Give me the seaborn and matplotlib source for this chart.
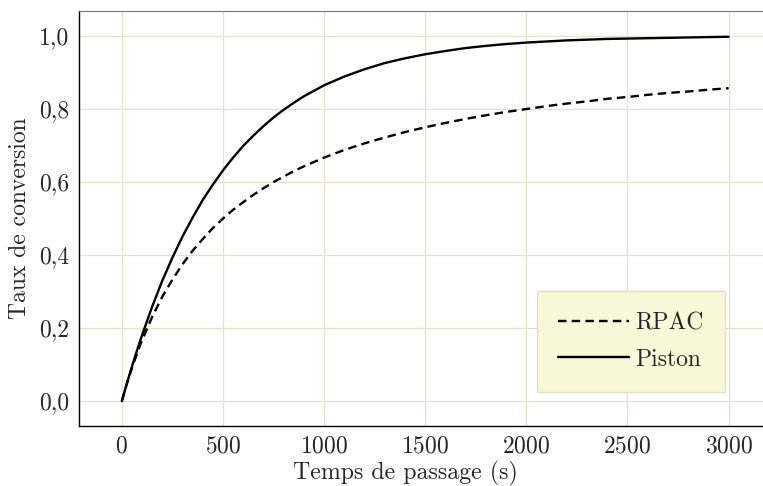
import numpy as np
import pandas as pd
import matplotlib
matplotlib.use("Agg")
import matplotlib.pyplot as plt
import seaborn as sns
from matplotlib.ticker import FuncFormatter

# temps de passage (s) et taux de conversion
temps = [0, 25, 50, 75, 100, 150, 200, 250, 300, 350, 400, 450, 500, 550, 600,
         650, 700, 750, 800, 850, 900, 950, 1000, 1100, 1200, 1300, 1400, 1500,
         1600, 1700, 1800, 1900, 2000, 2100, 2200, 2300, 2400, 2500, 2600,
         2700, 2800, 2900, 3000]
x_rpac = [0.0, 0.048, 0.091, 0.130, 0.167, 0.231, 0.286, 0.333, 0.375, 0.412,
          0.444, 0.474, 0.500, 0.524, 0.545, 0.565, 0.583, 0.600, 0.615, 0.630,
          0.643, 0.655, 0.667, 0.688, 0.706, 0.722, 0.737, 0.750, 0.762, 0.773,
          0.783, 0.792, 0.800, 0.808, 0.815, 0.821, 0.828, 0.833, 0.839, 0.844,
          0.848, 0.853, 0.857]
x_piston = [0.0, 0.049, 0.095, 0.139, 0.181, 0.259, 0.330, 0.393, 0.451, 0.503,
            0.551, 0.593, 0.632, 0.667, 0.699, 0.727, 0.753, 0.777, 0.798, 0.817,
            0.835, 0.850, 0.865, 0.889, 0.909, 0.926, 0.939, 0.950, 0.959, 0.967,
            0.973, 0.978, 0.982, 0.985, 0.988, 0.990, 0.992, 0.993, 0.994, 0.995,
            0.996, 0.997, 0.998]
x_ticks = [0, 500, 1000, 1500, 2000, 2500, 3000]
y_ticks = [0.0, 0.2, 0.4, 0.6, 0.8, 1.0]

df = pd.DataFrame({"temps": temps * 2,
                   "taux": x_rpac + x_piston,
                   "modele": ["RPAC"] * len(temps) + ["Piston"] * len(temps)})

sns.set_style("white")
plt.rcParams["font.family"] = ["cmr10", "DejaVu Serif"]
plt.rcParams["axes.formatter.use_mathtext"] = True
plt.rcParams["mathtext.fontset"] = "cm"

fig = plt.figure(figsize=(7.63, 4.86), dpi=100)
ax = fig.add_axes([0.1035, 0.1235, 0.8965, 0.8535])

sns.lineplot(data=df, x="temps", y="taux", hue="modele", style="modele",
             hue_order=["RPAC", "Piston"], style_order=["RPAC", "Piston"],
             palette=["black", "black"], dashes=[(3.6, 2.2), ""],
             linewidth=1.7, ax=ax)

ax.set_xlim(-212, 3170)
ax.set_ylim(-0.068, 1.068)
ax.set_xticks(x_ticks)
ax.set_yticks(y_ticks)
ax.yaxis.set_major_formatter(FuncFormatter(lambda v, p: f"{v:.1f}".replace(".", ",")))
ax.grid(True, color="#e8e1ca", linewidth=0.9)
ax.tick_params(labelsize=17, length=0, pad=7)
ax.set_xlabel("Temps de passage (s)", fontsize=17.2, labelpad=1)
ax.xaxis.set_label_coords(0.478, -0.085, transform=ax.transAxes)
ax.xaxis.label.set_va("top")
ax.set_ylabel("Taux de conversion", fontsize=17, labelpad=6)

ax.spines["right"].set_visible(False)
ax.spines["top"].set_color("#777777")
for s in ["left", "bottom"]:
    ax.spines[s].set_color("black")
    ax.spines[s].set_linewidth(1.0)

leg = ax.legend(loc="lower right", bbox_to_anchor=(0.944, 0.082), fontsize=17,
                frameon=True, fancybox=False, facecolor="#faf6d8",
                edgecolor="#e6dfbf", handlelength=3.0, handletextpad=0.25,
                borderpad=0.9, labelspacing=0.6, borderaxespad=0)
leg.get_frame().set_alpha(1)

fig.savefig("out.png", dpi=100)
